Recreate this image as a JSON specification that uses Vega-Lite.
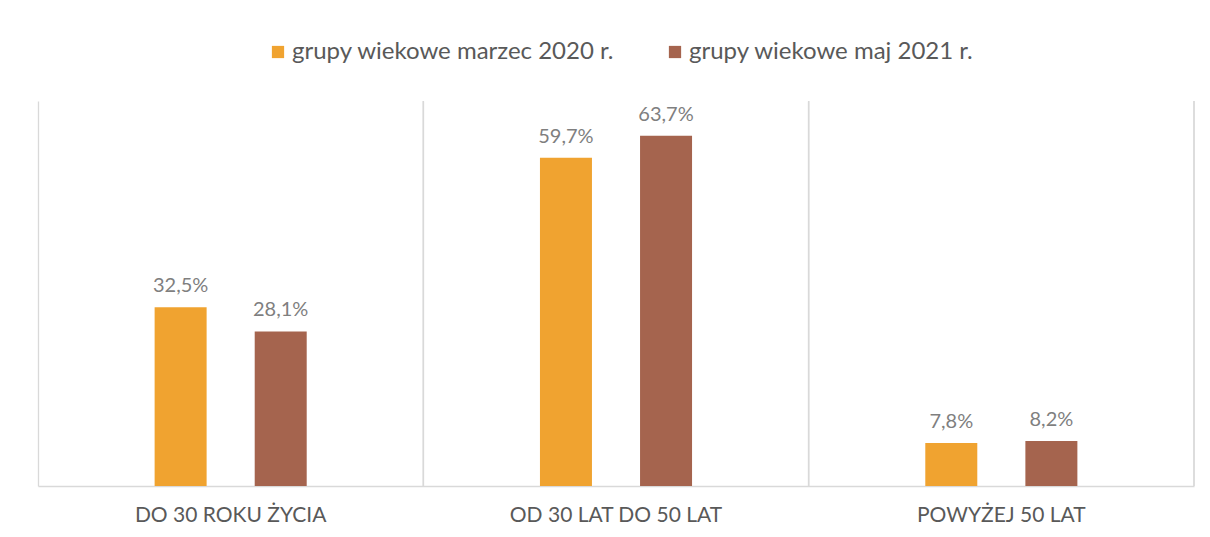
{
  "$schema": "https://vega.github.io/schema/vega-lite/v6.json",
  "autosize": "none",
  "width": 1156,
  "height": 385,
  "padding": {"left": 38, "top": 101, "right": 16, "bottom": 51},
  "background": "white",
  "config": {
    "view": {"stroke": null},
    "font": "Lato"
  },
  "data": {
    "values": [
      {"grupa": "DO 30 ROKU ŻYCIA", "seria": "grupy wiekowe marzec 2020 r.", "wartosc": 32.5, "etykieta": "32,5%"},
      {"grupa": "DO 30 ROKU ŻYCIA", "seria": "grupy wiekowe maj 2021 r.", "wartosc": 28.1, "etykieta": "28,1%"},
      {"grupa": "OD 30 LAT DO 50 LAT", "seria": "grupy wiekowe marzec 2020 r.", "wartosc": 59.7, "etykieta": "59,7%"},
      {"grupa": "OD 30 LAT DO 50 LAT", "seria": "grupy wiekowe maj 2021 r.", "wartosc": 63.7, "etykieta": "63,7%"},
      {"grupa": "POWYŻEJ 50 LAT", "seria": "grupy wiekowe marzec 2020 r.", "wartosc": 7.8, "etykieta": "7,8%"},
      {"grupa": "POWYŻEJ 50 LAT", "seria": "grupy wiekowe maj 2021 r.", "wartosc": 8.2, "etykieta": "8,2%"}
    ]
  },
  "encoding": {
    "x": {
      "field": "grupa",
      "type": "nominal",
      "sort": null,
      "scale": {"paddingInner": 0, "paddingOuter": 0},
      "axis": {
        "title": null,
        "labelAngle": 0,
        "labelFont": "Lato",
        "labelFontSize": 21,
        "labelColor": "#595959",
        "labelPadding": 18,
        "labelLimit": 0,
        "ticks": false,
        "domainColor": "#d9d9d9",
        "domainWidth": 1.5,
        "grid": true,
        "gridColor": "#d9d9d9",
        "gridWidth": 1.3,
        "bandPosition": 0
      }
    },
    "xOffset": {
      "field": "seria",
      "type": "nominal",
      "sort": ["grupy wiekowe marzec 2020 r.", "grupy wiekowe maj 2021 r."],
      "scale": {"paddingInner": 0.15, "paddingOuter": 1}
    }
  },
  "layer": [
    {
      "mark": {"type": "rule", "color": "#d9d9d9", "strokeWidth": 1.3},
      "encoding": {
        "x": {"field": "grupa", "type": "nominal", "sort": null, "bandPosition": 1},
        "xOffset": null
      }
    },
    {
      "mark": {"type": "bar", "width": 52},
      "encoding": {
        "y": {
          "field": "wartosc",
          "type": "quantitative",
          "scale": {"domain": [0, 70], "nice": false},
          "axis": null
        },
        "color": {
          "field": "seria",
          "type": "nominal",
          "sort": ["grupy wiekowe marzec 2020 r.", "grupy wiekowe maj 2021 r."],
          "scale": {"range": ["#F0A330", "#A5644E"]},
          "legend": {
            "title": null,
            "orient": "none",
            "direction": "horizontal",
            "legendX": 228,
            "legendY": -61,
            "symbolType": "square",
            "symbolSize": 150,
            "symbolStrokeWidth": 0,
            "labelFont": "Lato",
            "labelFontSize": 24,
            "labelColor": "#595959",
            "labelOffset": 2,
            "columnPadding": 48,
            "labelLimit": 0
          }
        }
      }
    },
    {
      "mark": {"type": "text", "baseline": "alphabetic", "dy": -15, "font": "Lato", "fontSize": 20, "color": "#7f7f7f"},
      "encoding": {
        "y": {"field": "wartosc", "type": "quantitative", "scale": {"domain": [0, 70], "nice": false}},
        "text": {"field": "etykieta"}
      }
    }
  ]
}
